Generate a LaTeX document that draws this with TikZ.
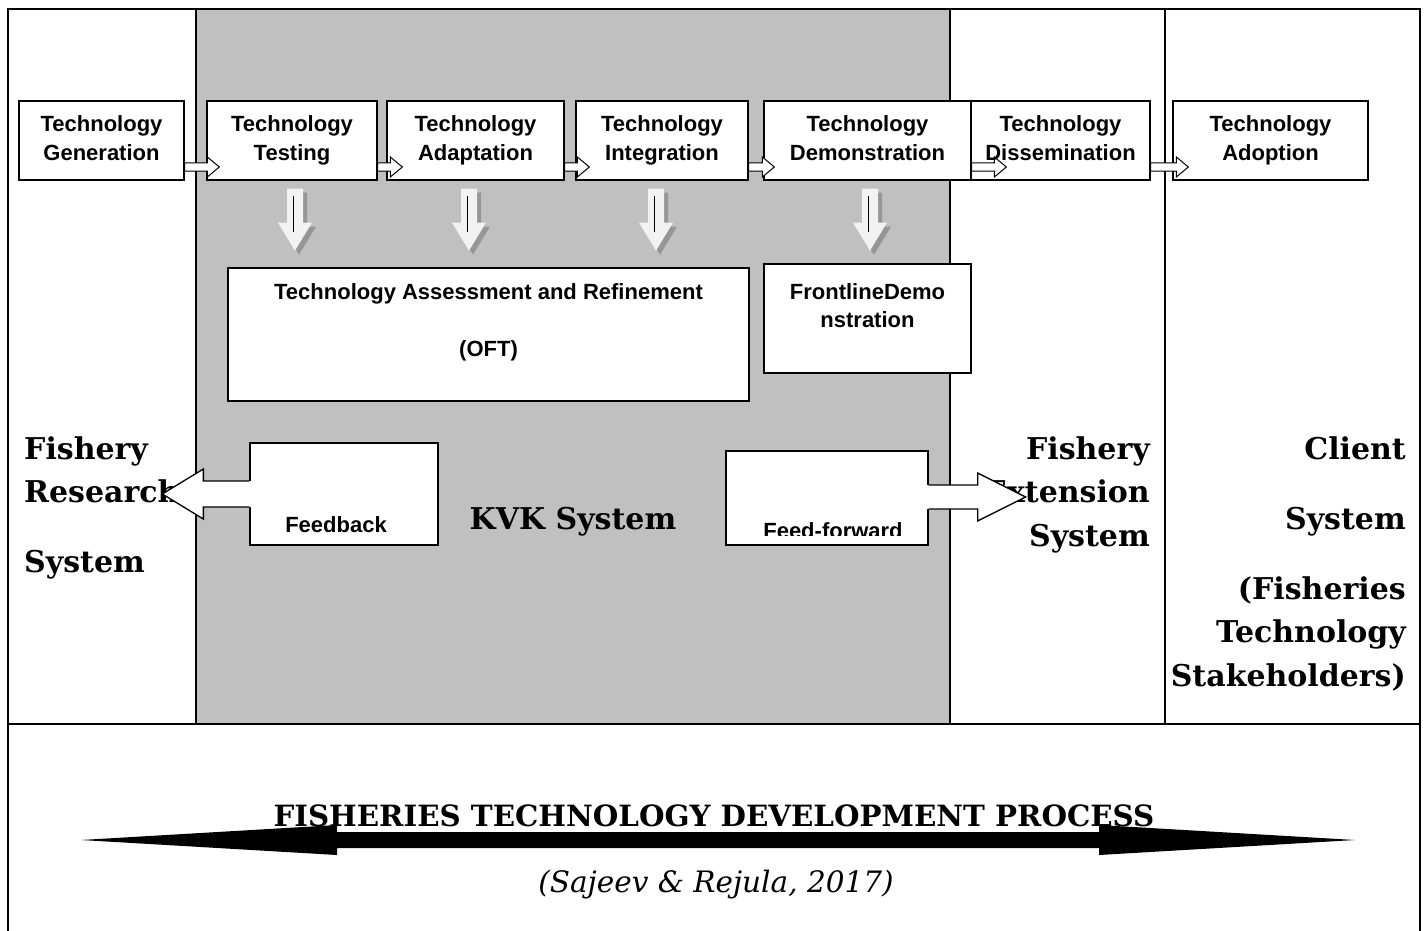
\documentclass[tikz,border=0pt]{standalone}
\usepackage{fontspec}
\newfontfamily\stagefont{Liberation Sans}
\newfontfamily\sysfont{DejaVu Serif}
\usepackage{tikz}
\usetikzlibrary{positioning,calc}
\definecolor{kvkgray}{RGB}{192,192,192}
\definecolor{dropfill}{RGB}{242,242,242}
\definecolor{dropshade}{RGB}{150,150,150}

\tikzset{
  frame/.style={line width=1.4pt},
  stagebox/.style={draw,line width=1.3pt,fill=white,inner sep=0pt,align=center,
    minimum height=79pt,execute at end node={\vphantom{gy}},
    font=\stagefont\bfseries\fontsize{22}{29}\selectfont},
  stagetext/.style={inner sep=0pt,font=\stagefont\bfseries\fontsize{22}{29}\selectfont},
  plainbox/.style={draw,line width=1.3pt,fill=white,inner sep=0pt},
  systext/.style={inner sep=0pt,font=\sysfont\bfseries\fontsize{30}{36}\selectfont},
  titletext/.style={inner sep=0pt,font=\sysfont\bfseries\fontsize{29.3}{35}\selectfont},
  citetext/.style={inner sep=0pt,font=\sysfont\itshape\fontsize{29.5}{35}\selectfont}
}

\newcommand{\flowarrow}[4][fill=white]{%
  \path ($(#2.east)+(0,26.5)$) coordinate (fs) ($(#3.west)+(#4,26.5)$) coordinate (ft);
  \draw[line width=1pt,#1] ($(fs)+(0,-4)$) -- ($(ft)+(-12,-4)$) -- ($(ft)+(-12,-10)$) -- (ft)
    -- ($(ft)+(-12,10)$) -- ($(ft)+(-12,4)$) -- ($(fs)+(0,4)$) -- cycle;}
\newcommand{\dropshape}{++(-8,0) -- ++(16,0) -- ++(0,34) -- ++(9,0) -- ++(-17,28) -- ++(-17,-28) -- ++(9,0) -- cycle}
\newcommand{\droparrow}[1]{%
  \fill[dropshade] ($(#1)+(4,4)$) \dropshape;
  \fill[dropfill] (#1) \dropshape;
  \draw[line width=0.9pt] ($(#1)+(-2,7)$) -- ++(0,36);}

\begin{document}
\begin{tikzpicture}[x=1pt,y=-1pt]
\useasboundingbox (0,0) rectangle (1427,931);

\fill[kvkgray] (196,9) rectangle (950,724);
\draw[frame] (8,935) |- (1420,9) -- (1420,935);
\draw[frame] (8,724) -- (1420,724);
\draw[frame] (196,9) -- (196,724) (950,9) -- (950,724) (1165,9) -- (1165,724);

\node[systext,anchor=base west] (res1) at (24,459) {Fishery};
\node[systext,anchor=base west] (res2) at (24,502) {Research};
\node[systext,anchor=base west] (res3) at (24,572) {System};
\node[systext,anchor=base] (kvk) at (573,529) {KVK System};
\node[systext,anchor=base east] (ext1) at (1150,459) {Fishery};
\node[systext,anchor=base east] (ext2) at (1150,502) {Extension};
\node[systext,anchor=base east] (ext3) at (1150,546) {System};
\node[systext,anchor=base east] (cli1) at (1406,459) {Client};
\node[systext,anchor=base east] (cli2) at (1406,529) {System};
\node[systext,anchor=base east] (cli3) at (1406,599) {(Fisheries};
\node[systext,anchor=base east] (cli4) at (1406,642) {Technology};
\node[systext,anchor=base east] (cli5) at (1406,686) {Stakeholders)};

\node[stagebox,minimum width=165pt] (gen) at (101.5,140.5) {Technology\\Generation};
\node[stagebox,minimum width=170pt] (test) at (292,140.5) {Technology\\Testing};
\node[stagebox,minimum width=177pt] (adapt) at (475.5,140.5) {Technology\\Adaptation};
\node[stagebox,minimum width=172pt] (integ) at (662,140.5) {Technology\\Integration};
\node[stagebox,minimum width=207pt] (demo) at (867.5,140.5) {Technology\\Demonstration};
\node[stagebox,minimum width=179pt] (dissem) at (1060.5,140.5) {Technology\\Dissemination};
\node[stagebox,minimum width=195pt] (adopt) at (1270.5,140.5) {Technology\\Adoption};

\flowarrow{gen}{test}{13}
\flowarrow{test}{adapt}{16}
\flowarrow{adapt}{integ}{14}
\flowarrow{integ}{demo}{11}
\flowarrow[fill=none]{demo}{dissem}{36}
\flowarrow{dissem}{adopt}{16}

\coordinate (d1) at ($(test.south)+(3,8)$);
\coordinate (d2) at ($(adapt.south)+(-6.5,8)$);
\coordinate (d3) at ($(integ.south)+(-6,8)$);
\coordinate (d4) at ($(demo.south)+(2.5,8)$);
\droparrow{d1}
\droparrow{d2}
\droparrow{d3}
\droparrow{d4}

\node[plainbox,minimum width=521pt,minimum height=133pt] (oft) at (488.5,334.5) {};
\node[stagetext,anchor=base] (oft1) at ($(oft.north)+(0,32)$) {Technology Assessment and Refinement};
\node[stagetext,anchor=base] (oft2) at ($(oft.north)+(0,89)$) {(OFT)};
\node[plainbox,minimum width=207pt,minimum height=109pt] (front) at (867.5,318.5) {};
\node[stagetext,anchor=base] (front1) at ($(front.north)+(0,36)$) {FrontlineDemo};
\node[stagetext,anchor=base] (front2) at ($(front.north)+(0,64)$) {nstration};

\node[plainbox,minimum width=188pt,minimum height=102pt] (fb) at (344,494) {};
\node[stagetext,anchor=base] (fbtext) at ($(fb.south)+(-8,-13)$) {Feedback};
\fill[white] ($(fb.west)+(2,-13)$) -- ($(fb.west)+(-46,-13)$) -- ($(fb.west)+(-46,-25)$) -- ($(fb.west)+(-87,0)$)
  -- ($(fb.west)+(-46,25)$) -- ($(fb.west)+(-46,13)$) -- ($(fb.west)+(2,13)$) -- cycle;
\draw[line width=1.3pt] ($(fb.west)+(0,-13)$) -- ($(fb.west)+(-46,-13)$) -- ($(fb.west)+(-46,-25)$) -- ($(fb.west)+(-87,0)$)
  -- ($(fb.west)+(-46,25)$) -- ($(fb.west)+(-46,13)$) -- ($(fb.west)+(0,13)$);

\node[plainbox,minimum width=202pt,minimum height=94pt] (ff) at (827,498) {};
\begin{scope}
\clip (726,451) rectangle (928,535);
\node[stagetext,anchor=base] (fftext) at ($(ff.south)+(6,-7)$) {Feed-forward};
\end{scope}
\fill[white] ($(ff.east)+(-2,-13)$) -- ($(ff.east)+(49,-13)$) -- ($(ff.east)+(49,-25)$) -- ($(ff.east)+(97,-1)$)
  -- ($(ff.east)+(49,23)$) -- ($(ff.east)+(49,11)$) -- ($(ff.east)+(-2,11)$) -- cycle;
\draw[line width=1.3pt] ($(ff.east)+(0,-13)$) -- ($(ff.east)+(49,-13)$) -- ($(ff.east)+(49,-25)$) -- ($(ff.east)+(97,-1)$)
  -- ($(ff.east)+(49,23)$) -- ($(ff.east)+(49,11)$) -- ($(ff.east)+(0,11)$);

\node[titletext,anchor=base] (title) at (714,826) {FISHERIES TECHNOLOGY DEVELOPMENT PROCESS};
\node[citetext,anchor=base] (cite) at (716,892) {(Sajeev \& Rejula, 2017)};
\coordinate (procL) at (81,840);
\coordinate (procR) at (1355,840);
\fill (procL) -- ++(256,-15) -- ++(0,7) -- ($(procR)+(-256,-8)$) -- ++(0,-7) -- (procR)
  -- ++(-256,15) -- ++(0,-7) -- ($(procL)+(256,8)$) -- ++(0,7) -- cycle;

\end{tikzpicture}
\end{document}
